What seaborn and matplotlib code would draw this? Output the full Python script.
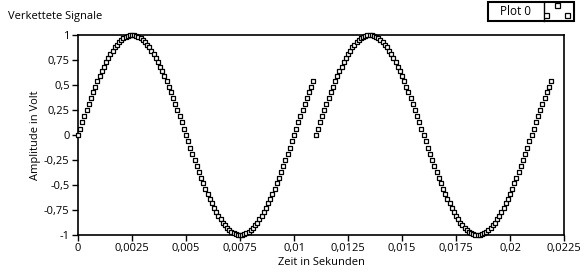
import matplotlib
matplotlib.use("Agg")
import matplotlib.pyplot as plt
import seaborn as sns
import pandas as pd
from matplotlib.patches import Rectangle
from matplotlib.lines import Line2D

# ---- data ----
title = "Verkettete Signale"
legend_label = "Plot 0"
x_label = "Zeit in Sekunden"
y_label = "Amplitude in Volt"

t0 = 0.0
dt = 0.0001  # sample spacing of the waveform

# one signal segment (110 samples), the chart shows two concatenated copies
segment = [
    0.00, 0.06, 0.13, 0.19, 0.25, 0.31, 0.37, 0.43, 0.48, 0.54,
    0.59, 0.64, 0.68, 0.73, 0.77, 0.81, 0.84, 0.88, 0.90, 0.93,
    0.95, 0.97, 0.98, 0.99, 1.00, 1.00, 1.00, 0.99, 0.98, 0.97,
    0.95, 0.93, 0.90, 0.88, 0.84, 0.81, 0.77, 0.73, 0.68, 0.64,
    0.59, 0.54, 0.48, 0.43, 0.37, 0.31, 0.25, 0.19, 0.13, 0.06,
    0.00, -0.06, -0.13, -0.19, -0.25, -0.31, -0.37, -0.43, -0.48, -0.54,
    -0.59, -0.64, -0.68, -0.73, -0.77, -0.81, -0.84, -0.88, -0.90, -0.93,
    -0.95, -0.97, -0.98, -0.99, -1.00, -1.00, -1.00, -0.99, -0.98, -0.97,
    -0.95, -0.93, -0.90, -0.88, -0.84, -0.81, -0.77, -0.73, -0.68, -0.64,
    -0.59, -0.54, -0.48, -0.43, -0.37, -0.31, -0.25, -0.19, -0.13, -0.06,
    0.00, 0.06, 0.13, 0.19, 0.25, 0.31, 0.37, 0.43, 0.48, 0.54,
]
signal = segment + segment
time = [t0 + i * dt for i in range(len(signal))]

x_ticks = [0, 0.0025, 0.005, 0.0075, 0.01, 0.0125, 0.015, 0.0175, 0.02, 0.0225]
x_tick_labels = ["0", "0,0025", "0,005", "0,0075", "0,01", "0,0125", "0,015",
                 "0,0175", "0,02", "0,0225"]
y_ticks = [1, 0.75, 0.5, 0.25, 0, -0.25, -0.5, -0.75, -1]
y_tick_labels = ["1", "0,75", "0,5", "0,25", "0", "-0,25", "-0,5", "-0,75", "-1"]

df = pd.DataFrame({"t": time, "v": signal})

# ---- figure ----
W, H = 588, 277
fig = plt.figure(figsize=(W / 100, H / 100), dpi=100)
fig.patch.set_facecolor("white")
plt.rcParams["font.family"] = ["Open Sans", "DejaVu Sans"]
FS = 8

ax = fig.add_axes([78 / W, 1 - 235 / H, (564 - 78) / W, 200 / H])
sns.scatterplot(data=df, x="t", y="v", ax=ax, marker="s", s=12,
                facecolor="white", edgecolor="black", linewidth=0.9,
                legend=False, clip_on=False, zorder=3)

ax.set_xlim(0, 0.0225)
ax.set_ylim(-1, 1)
ax.set_xticks(x_ticks)
ax.set_xticklabels(x_tick_labels)
ax.set_yticks(y_ticks)
ax.set_yticklabels(y_tick_labels)
ax.tick_params(direction="out", length=4, width=1, colors="black",
               labelsize=FS, pad=2)
for sp in ax.spines.values():
    sp.set_color("black")
    sp.set_linewidth(1.2)
ax.set_xlabel(x_label, fontsize=FS, labelpad=2)
ax.set_ylabel(y_label, fontsize=FS, labelpad=2)
ax.set_facecolor("white")

fig.text(8 / W, 1 - 17 / H, title, fontsize=FS, ha="left", va="center")

# legend box (LabVIEW style plot legend)
lx0, lx1, lsep, ly0, ly1 = 488, 574, 544, 2, 21
fig.patches.append(Rectangle((lx0 / W, 1 - ly1 / H), (lx1 - lx0) / W,
                             (ly1 - ly0) / H, transform=fig.transFigure,
                             facecolor="white", edgecolor="black", linewidth=1.5,
                             zorder=1))
fig.lines.append(Line2D([lsep / W, lsep / W], [1 - ly1 / H, 1 - ly0 / H],
                        transform=fig.transFigure, color="black", linewidth=1,
                        zorder=2))
fig.text((lx0 + lsep) / 2 / W, 1 - 11.5 / H, legend_label, fontsize=FS + 0.5,
         ha="center", va="center")
# icon cell: small clipped axes with marker samples
iax = fig.add_axes([(lsep + 1) / W, 1 - (ly1 - 1) / H, (lx1 - lsep - 2) / W,
                    (ly1 - ly0 - 2) / H])
iax.set_zorder(10)
iax.patch.set_alpha(0)
iax.set_xlim(lsep + 1, lx1 - 1)
iax.set_ylim(ly1 - 1, ly0 + 1)
iax.set_xticks([])
iax.set_yticks([])
for sp in iax.spines.values():
    sp.set_visible(False)
iax.plot([546, 557, 567], [15, 4.5, 15], marker="s", markersize=3.6,
         markerfacecolor="white", markeredgecolor="black",
         markeredgewidth=0.9, linestyle="none", clip_on=True)

fig.savefig("out.png", dpi=100, facecolor="white")
